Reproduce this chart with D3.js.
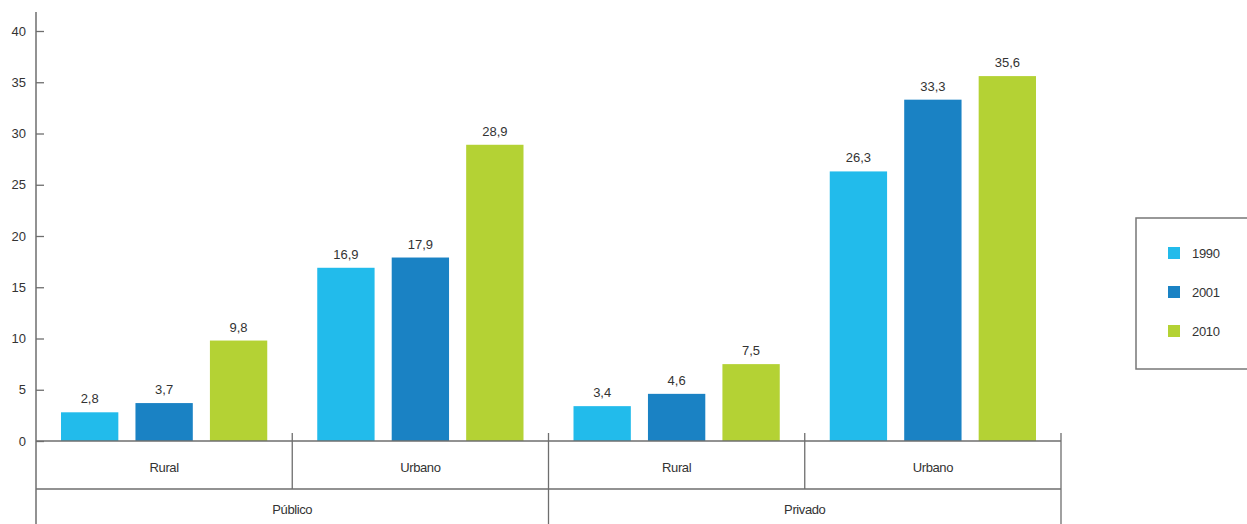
<!DOCTYPE html>
<html>
<head>
<meta charset="utf-8">
<script src="https://cdn.jsdelivr.net/npm/d3@7"></script>
<style>
  body { margin: 0; background: #fff; }
  svg text { font-family: "Liberation Sans", Arial, sans-serif; fill: #333; }
</style>
</head>
<body>
<svg id="chart" width="1247" height="524"></svg>
<script>
// Données
const sectors = ["Público", "Privado"];
const areas = ["Rural", "Urbano"];
const years = ["1990", "2001", "2010"];
const values1990 = [2.8, 16.9, 3.4, 26.3];
const values2001 = [3.7, 17.9, 4.6, 33.3];
const values2010 = [9.8, 28.9, 7.5, 35.6];
const yTicks = [0, 5, 10, 15, 20, 25, 30, 35, 40];

const colors = { "1990": "#22bbeb", "2001": "#1a82c4", "2010": "#b4d234" };
const lineColor = "#6e6e6e";

const svg = d3.select("#chart");
const left = 36, right = 1061, base = 441, row2 = 489;

// Une case par couple secteur / zone
const cells = [];
sectors.forEach(s => areas.forEach(a => cells.push(s + "|" + a)));
const series = { "1990": values1990, "2001": values2001, "2010": values2010 };

const x0 = d3.scaleBand().domain(cells).range([left, right]);
const x1 = d3.scaleBand().domain(years)
  .range([25, x0.bandwidth() - 25]).paddingInner(0.23);
const y = d3.scaleLinear().domain([0, 40]).range([base, 31]);

// Axe vertical
const yAxis = d3.axisLeft(y).tickValues(yTicks)
  .tickSizeInner(-8).tickSizeOuter(0).tickPadding(10)
  .tickFormat(d3.format("d"));
const gy = svg.append("g").attr("transform", `translate(${left},0)`).call(yAxis);
gy.select(".domain").remove();
gy.selectAll(".tick line").attr("stroke", lineColor).attr("stroke-width", 1.3);
gy.selectAll(".tick text").attr("font-size", 13).style("fill", "#333");

svg.append("line")
  .attr("x1", left).attr("x2", left).attr("y1", 12).attr("y2", 524)
  .attr("stroke", lineColor).attr("stroke-width", 1.5);

// Barres
const rows = [];
cells.forEach((c, i) => years.forEach(yr => rows.push({ cell: c, year: yr, value: series[yr][i] })));

svg.append("g").selectAll("rect")
  .data(rows).enter().append("rect")
  .attr("x", d => x0(d.cell) + x1(d.year))
  .attr("width", x1.bandwidth())
  .attr("y", d => y(d.value))
  .attr("height", d => base - y(d.value))
  .attr("fill", d => colors[d.year]);

svg.append("g").selectAll("text")
  .data(rows).enter().append("text")
  .attr("x", d => x0(d.cell) + x1(d.year) + x1.bandwidth() / 2)
  .attr("y", d => y(d.value) - 9)
  .attr("text-anchor", "middle")
  .attr("font-size", 13)
  .text(d => d3.format(".1f")(d.value).replace(".", ","));

// Grille des catégories
const hline = (yy) => svg.append("line")
  .attr("x1", left).attr("x2", right).attr("y1", yy).attr("y2", yy)
  .attr("stroke", lineColor).attr("stroke-width", 1.5);
hline(base);
hline(row2);

cells.forEach((c, i) => {
  const xr = x0(c) + x0.bandwidth();
  const lastOfSector = (i % areas.length) === areas.length - 1;
  svg.append("line")
    .attr("x1", xr).attr("x2", xr)
    .attr("y1", base - 8).attr("y2", lastOfSector ? 524 : row2)
    .attr("stroke", lineColor).attr("stroke-width", 1.3);
  svg.append("text")
    .attr("x", x0(c) + x0.bandwidth() / 2).attr("y", 472)
    .attr("text-anchor", "middle").attr("font-size", 13)
    .attr("letter-spacing", -0.4)
    .text(c.split("|")[1]);
});

sectors.forEach(s => {
  const xa = x0(s + "|" + areas[0]);
  const xb = x0(s + "|" + areas[areas.length - 1]) + x0.bandwidth();
  svg.append("text")
    .attr("x", (xa + xb) / 2).attr("y", 514)
    .attr("text-anchor", "middle").attr("font-size", 13)
    .attr("letter-spacing", -0.4)
    .text(s);
});

// Légende
const legend = svg.append("g").attr("transform", "translate(1136,218)");
legend.append("rect")
  .attr("width", 140).attr("height", 151)
  .attr("fill", "none").attr("stroke", "#777").attr("stroke-width", 1.5);
years.forEach((yr, i) => {
  const g = legend.append("g").attr("transform", `translate(32,${29 + i * 39})`);
  g.append("rect").attr("width", 12).attr("height", 12).attr("fill", colors[yr]);
  g.append("text").attr("x", 24).attr("y", 11).attr("font-size", 13)
    .attr("letter-spacing", -0.3).text(yr);
});
</script>
</body>
</html>
